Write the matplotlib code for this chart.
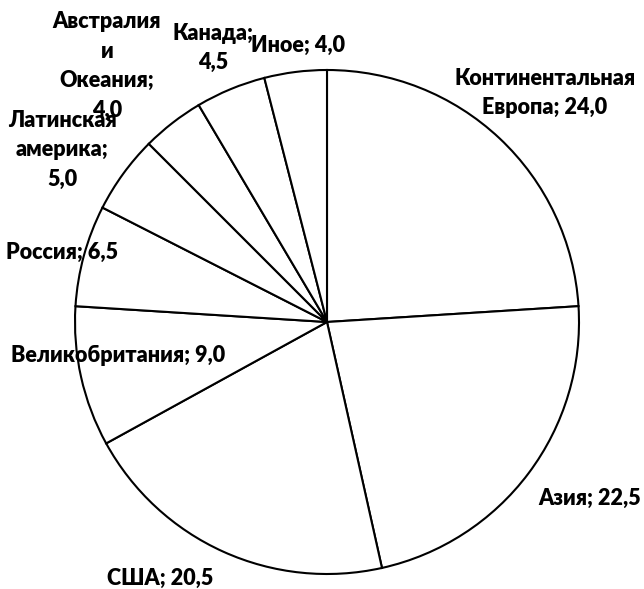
import matplotlib
matplotlib.use("Agg")
import matplotlib.pyplot as plt

categories = ["Континентальная\nЕвропа", "Азия", "США", "Великобритания", "Россия",
              "Латинская\nамерика", "Австралия\nи\nОкеания", "Канада", "Иное"]
values = [24.0, 22.5, 20.5, 9.0, 6.5, 5.0, 4.0, 4.5, 4.0]
label_texts = ["Континентальная\nЕвропа; 24,0", "Азия; 22,5", "США; 20,5",
               "Великобритания; 9,0", "Россия; 6,5", "Латинская\nамерика;\n5,0",
               "Австралия\nи\nОкеания;\n4,0", "Канада;\n4,5", "Иное; 4,0"]
# label centres in pixel coordinates (x, y from top)
label_px = [(545, 93), (590, 498), (160, 578), (118, 356), (62, 252),
            (62, 150), (107, 66), (213, 48), (298, 45)]

W, H = 644, 589
cx, cy, R = 327, 322, 252

fig = plt.figure(figsize=(W / 100, H / 100), dpi=100)
ax = fig.add_axes([0, 0, 1, 1])

ax.pie(values, startangle=90, counterclock=False, radius=1.0,
       colors=["white"] * len(values),
       wedgeprops=dict(edgecolor="black", linewidth=1.5))

ax.set_aspect("auto")
ax.set_xlim(-cx / R, (W - cx) / R)
ax.set_ylim((cy - H) / R, cy / R)
ax.axis("off")

for txt, (px, py) in zip(label_texts, label_px):
    ax.text((px - cx) / R, (cy - py) / R, txt, ha="center", va="center",
            fontsize=15.5, fontweight="heavy", family=["Lato", "DejaVu Sans"],
            linespacing=1.5, color="black")

fig.savefig("out.png", dpi=100, facecolor="white")
